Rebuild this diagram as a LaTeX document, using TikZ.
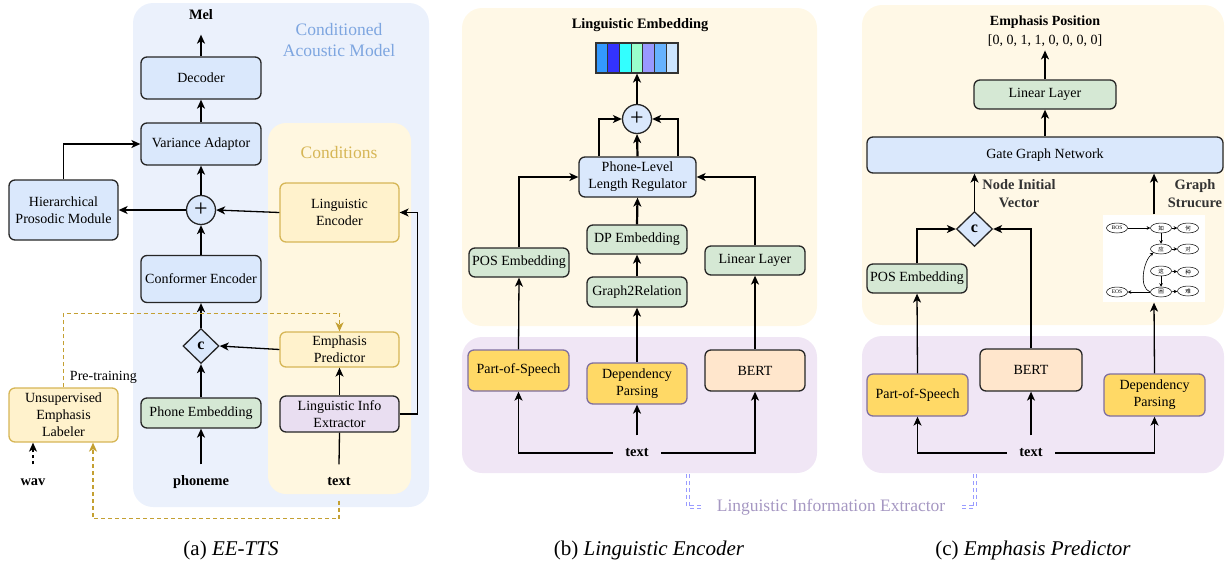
\documentclass[tikz,border=0pt]{standalone}
\usepackage{fontspec}
\setmainfont{Liberation Serif}
\newfontfamily\cjk{Noto Sans CJK SC}
\usetikzlibrary{arrows.meta,shapes.geometric}
\definecolor{bgblue}{HTML}{EBF1FC}
\definecolor{bgyel}{HTML}{FFF8E6}
\definecolor{bgcond}{HTML}{FFF7E0}
\definecolor{bgpur}{HTML}{F0E6F5}
\definecolor{blfill}{HTML}{DAE8FC}
\definecolor{grfill}{HTML}{D5E8D4}
\definecolor{ylfill}{HTML}{FFF2CC}
\definecolor{yldraw}{HTML}{D6B656}
\definecolor{pufill}{HTML}{E9DEF1}
\definecolor{gofill}{HTML}{FFD966}
\definecolor{godraw}{HTML}{7F6F9F}
\definecolor{orfill}{HTML}{FFE6CC}
\definecolor{camtext}{HTML}{7EA6E0}
\definecolor{condtext}{HTML}{D6B656}
\definecolor{lietext}{HTML}{A597C2}
\definecolor{brkline}{HTML}{9A9CFF}
\definecolor{goldline}{HTML}{C4A032}
\begin{document}
\begin{tikzpicture}[x=1pt,y=-1pt,>={Stealth[length=9pt,width=8pt,inset=2.5pt]},
  line width=1.3pt,
  box/.style={draw=black!85,rounded corners=6pt,align=center,inner sep=0pt,font=\fontsize{14}{17}\selectfont},
  sz/.style 2 args={minimum width=#1,minimum height=#2},
  bluebox/.style={box,fill=blfill},
  greenbox/.style={box,fill=grfill},
  yelbox/.style={box,fill=ylfill,draw=yldraw},
  purbox/.style={box,fill=pufill},
  gldbox/.style={box,fill=gofill,draw=godraw},
  orbox/.style={box,fill=orfill},
  lab/.style={font=\fontsize{14.4}{17}\selectfont\bfseries,inner xsep=12pt,minimum height=34pt},
  sidelab/.style={font=\fontsize{14.4}{18}\selectfont\bfseries,align=center,text=black!80},
  addop/.style={circle,draw=black!85,fill=blfill,minimum size=29pt,inner sep=0pt,font=\fontsize{24}{24}\selectfont},
  catop/.style={diamond,draw=black!85,fill=blfill,minimum width=36pt,minimum height=35pt,inner sep=0pt,font=\fontsize{16}{16}\selectfont\bfseries},
  ttl/.style={font=\fontsize{17.5}{21}\selectfont,align=center},
  capt/.style={font=\fontsize{21}{24}\selectfont},
  main/.style={->,line width=2.2pt},
  preline/.style={draw=goldline,dash pattern=on 4pt off 3pt,line width=1.4pt},
  brk/.style={draw=brkline,double=white,double distance=1.8pt,line width=0.8pt,dash pattern=on 4pt off 3pt},
  gn/.style={ellipse,draw,line width=0.5pt,minimum width=21pt,minimum height=10pt,inner sep=0pt,font=\fontsize{5.5}{6}\selectfont},
  ge/.style={-{Stealth[length=3.5pt,width=3.5pt]},line width=0.6pt}]
\useasboundingbox (0,0) rectangle (1230,563);

% (a) EE-TTS
\fill[bgblue,rounded corners=20pt] (133,3) rectangle (429,507);
\fill[bgcond,rounded corners=18pt] (268,123) rectangle (411,494);
\node[ttl,text=camtext] (tcam) at (339,40) {Conditioned\\Acoustic Model};
\node[ttl,text=condtext] (tcond) at (339,153) {Conditions};
\node[lab] (mel) at (201,15) {Mel};
\node[bluebox,sz={120}{42}] (dec) at (201,78) {Decoder};
\node[bluebox,sz={120}{42}] (va) at (201,144) {Variance Adaptor};
\node[addop] (adda) at (201,210) {+};
\node[bluebox,sz={109}{60}] (hpm) at (63.5,210) {Hierarchical\\Prosodic Module};
\node[yelbox,sz={119}{59}] (le) at (339.5,212.5) {Linguistic\\Encoder};
\node[bluebox,sz={120}{47}] (conf) at (201,279) {Conformer Encoder};
\node[catop] (cata) at (201,346) {c};
\node[yelbox,sz={119}{35}] (ep) at (339.5,349.5) {Emphasis\\Predictor};
\node[greenbox,sz={120}{30}] (pe) at (201,413) {Phone Embedding};
\node[purbox,sz={119}{36}] (lie) at (339.5,414) {Linguistic Info\\Extractor};
\node[yelbox,sz={109}{54}] (uel) at (63.5,415) {Unsupervised\\Emphasis\\Labeler};
\node[lab] (phon) at (201,482) {phoneme};
\node[lab] (txta) at (339,482) {text};
\node[lab] (wav) at (33,482) {wav};
\node[font=\fontsize{14}{17}\selectfont,anchor=west] (pt) at (66,377) {Pre-training};
\node[capt] (capa) at (231,550) {(a) \textit{EE-TTS}};

\draw[main,shorten >=2pt] (dec.north) -- (mel.south);
\draw[main] (va.north) -- (dec.south);
\draw[main] (adda.north) -- (va.south);
\draw[main] (conf.north) -- (adda.south);
\draw[main] (cata.north) -- (conf.south);
\draw[main] (pe.north) -- (cata.south);
\draw[main] (phon.north) -- (pe.south);
\draw (txta.north) -- (lie.south);
\draw[->] (lie.north) -- (ep.south);
\draw[->] (ep.west) -- (cata.east);
\draw[->] (le.west) -- (adda.east);
\draw[->] (adda.west) -- (hpm.east);
\draw[->] (hpm.north) |- (va.west);
\draw[->] (lie.east) -- ++(18,0) |- (le.east);
\draw[->,dashed] (wav.north) -- (wav.north |- uel.south);
\draw[preline,->] (uel.north) -- ++(0,-74) -| (ep.north);
\draw[preline,->] (txta.south) ++(0,1) -- ++(0,18) -| ([xshift=29.5pt]uel.south);

% (b) Linguistic Encoder
\fill[bgyel,rounded corners=20pt] (462,8) rectangle (817,326);
\fill[bgpur,rounded corners=20pt] (462,337) rectangle (817,473);
\node[lab] (lemb) at (640,25) {Linguistic Embedding};
\foreach \c [count=\i from 0] in {3399FF,3333FF,33FFFF,99FFCC,9999FF,66B2FF,CCE5FF}{
  \definecolor{cell}{HTML}{\c}
  \filldraw[fill=cell,draw=black!80,line width=1pt] (596+\i*11.714,43) rectangle ++(11.714,30);
}
\node[draw=black!80,line width=1.2pt,sz={82}{30},inner sep=0pt] (emb) at (637,58) {};
\node[addop] (addb) at (637,119) {+};
\node[bluebox,sz={117}{40}] (pllr) at (637.5,177) {Phone-Level\\Length Regulator};
\node[greenbox,sz={100}{29}] (posb) at (519,262.5) {POS Embedding};
\node[greenbox,sz={100}{29}] (dpe) at (637,239.5) {DP Embedding};
\node[greenbox,sz={100}{30}] (g2r) at (637,292) {Graph2Relation};
\node[greenbox,sz={100}{29}] (llb) at (755,260.5) {Linear Layer};
\node[gldbox,sz={101}{41}] (posspb) at (518.5,370.5) {Part-of-Speech};
\node[gldbox,sz={100}{41}] (depb) at (637,383.5) {Dependency\\Parsing};
\node[orbox,sz={100}{41}] (bertb) at (755,370.5) {BERT};
\node[lab] (txtb) at (637,453) {text};
\node[capt] (capb) at (649,550) {(b) \textit{Linguistic Encoder}};

\draw[main] (addb.north) -- (emb.south);
\draw[main] (pllr.north) -- (addb.south);
\draw[->] ([xshift=-38.5pt]pllr.north) |- (addb.west);
\draw[->] ([xshift=40.5pt]pllr.north) |- (addb.east);
\draw[->] (posb.north) |- (pllr.west);
\draw[->] (llb.north) |- (pllr.east);
\draw[main] (dpe.north) -- (pllr.south);
\draw[main] (g2r.north) -- (dpe.south);
\draw[->] (posspb.north) -- (posb.south);
\draw[->] (depb.north) -- (g2r.south);
\draw[->] (bertb.north) -- (llb.south);
\draw[->] (txtb.west) -| (posspb.south);
\draw[->] (txtb.east) -| (bertb.south);
\draw[main] (txtb.north) -- (depb.south);

% (c) Emphasis Predictor
\fill[bgyel,rounded corners=20pt] (862,5) rectangle (1224,325);
\fill[bgpur,rounded corners=20pt] (862,336) rectangle (1224,473);
\node[font=\fontsize{14}{19}\selectfont,align=center] (epos) at (1045,31) {\textbf{Emphasis Position}\\{}[0, 0, 1, 1, 0, 0, 0, 0]};
\node[greenbox,sz={142}{29}] (llc) at (1045,94.5) {Linear Layer};
\node[bluebox,sz={356}{36}] (ggn) at (1045,155) {Gate Graph Network};
\node[catop] (catc) at (974.5,229) {c};
\node[greenbox,sz={100}{29}] (posc) at (917,278.5) {POS Embedding};
\node[gldbox,sz={101}{42}] (posspc) at (917.5,395) {Part-of-Speech};
\node[orbox,sz={102}{42}] (bertc) at (1031,370) {BERT};
\node[gldbox,sz={101}{42}] (depc) at (1154.5,395) {Dependency\\Parsing};
\node[lab] (txtc) at (1031,453) {text};
\node[sidelab] (niv) at (1019,194) {Node Initial\\Vector};
\node[sidelab] (gsl) at (1195,194) {Graph\\Strucure};
\node[fill=white,sz={102}{87},inner sep=0pt] (gs) at (1154,258.5) {};
\node[gn] (gbos) at (1117,228) {BOS};
\node[gn] (gru) at (1161,228) {\cjk 如};
\node[gn] (ghe) at (1188,228) {\cjk 何};
\node[gn] (gying) at (1161,249) {\cjk 应};
\node[gn] (gdui) at (1188,249) {\cjk 对};
\node[gn] (gzhe) at (1161,271) {\cjk 这};
\node[gn] (gzhong) at (1188,272) {\cjk 种};
\node[gn] (gkun) at (1161,292) {\cjk 困};
\node[gn] (gnan) at (1188,291) {\cjk 难};
\node[gn] (geos) at (1117,292) {EOS};
\node[capt] (capc) at (1033,550) {(c) \textit{Emphasis Predictor}};

\draw[ge] (gbos) -- (gru);
\draw[ge] (gru) -- (ghe);
\draw[ge] (gru) -- (gying);
\draw[ge] (gying) -- (gdui);
\draw[ge] (gzhe) -- (gzhong);
\draw[ge] (gzhe) -- (gkun);
\draw[ge] (gkun) -- (gnan);
\draw[ge] (gkun) -- (geos);
\draw[ge] (gkun.west) .. controls +(-12,-4) and +(-10,8) .. (gying.south west);

\draw[main] (llc.north) -- (epos.south);
\draw[main] (ggn.north) -- (llc.south);
\draw[->] (catc.north) -- (catc.north |- ggn.south);
\draw[->] (gs.north) -- (gs.north |- ggn.south);
\draw[->] (posc.north) |- (catc.west);
\draw[->] (bertc.north) |- (catc.east);
\draw[->] (posspc.north) -- (posc.south);
\draw[->] (depc.north) -- (gs.south);
\draw[->] (txtc.west) -| (posspc.south);
\draw[->] (txtc.east) -| (depc.south);
\draw[->] (txtc.north) -- (bertc.south);

% extractor bracket
\node[ttl,text=lietext,inner xsep=15pt] (lix) at (831,507) {Linguistic Information Extractor};
\coordinate (brl) at (688,474);
\coordinate (brr) at (975,474);
\draw[brk] (brl) |- (lix.west);
\draw[brk] (brr) |- (lix.east);
\end{tikzpicture}
\end{document}
